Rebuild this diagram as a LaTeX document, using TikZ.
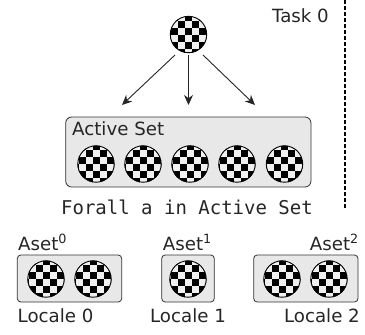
\documentclass[tikz,border=0pt]{standalone}
\usetikzlibrary{arrows.meta}
\usepackage{fontspec}
\setmainfont{DejaVu Sans}
\setmonofont{DejaVu Sans Mono}
\begin{document}
\begin{tikzpicture}[x=1pt,y=-1pt,
  lbl/.style={inner sep=0pt,font=\fontsize{18.2pt}{20pt}\selectfont,text=black!85},
  setbox/.style={draw=black!80,fill=black!9,line width=0.8pt,rounded corners=3.5pt},
  arr/.style={draw=black!85,line width=0.9pt,-{Stealth[length=10pt,width=9pt]}}]
\newcommand{\chk}[3]{%
  \node[circle,minimum size=37pt,inner sep=0pt,outer sep=0pt] (#3) at (#1,#2) {};
  \begin{scope}
    \clip (#1,#2) circle (18.5pt);
    \fill[black!6] (#1,#2) circle (18.5pt);
    \foreach \i in {-3,...,3}{\foreach \j in {-3,...,2}{
      \pgfmathtruncatemacro{\chkpar}{mod(\i+\j+12,2)}
      \ifnum\chkpar=1
        \fill[black] ({#1+(\i-0.5)*7},{#2+\j*7}) rectangle ++(7,7);
      \fi
    }}
  \end{scope}
  \draw[black,line width=0.9pt] (#1,#2) circle (18.2pt);
}
\useasboundingbox (0,0) rectangle (365,335);
\fill[white] (0,0) rectangle (365,335);
\node[lbl,anchor=base east] (task) at (329,22) {Task 0};
\coordinate (ltop) at (345,0);
\coordinate (lbot) at (345,208);
\draw[black,line width=1.6pt,dash pattern=on 4.4pt off 1.6pt] (ltop) -- (lbot);
\chk{188.5}{34.5}{top}
\coordinate (a1) at (122,105);
\coordinate (a2) at (188.5,105);
\coordinate (a3) at (255,105);
\coordinate (s1) at (175,55);
\coordinate (s2) at (188.5,55);
\coordinate (s3) at (203,55);
\draw[arr] (s1) -- (a1);
\draw[arr] (s2) -- (a2);
\draw[arr] (s3) -- (a3);
\draw[setbox,rounded corners=6pt] (65.7,117) rectangle (311,187);
\node[lbl,anchor=base west] (active) at (72,135) {Active Set};
\chk{96}{164}{c1}
\chk{143}{164}{c2}
\chk{190}{164}{c3}
\chk{237}{164}{c4}
\chk{284.5}{164}{c5}
\node[lbl,anchor=base,font=\fontsize{19pt}{20pt}\ttfamily] (forall) at (187,214) {Forall a in Active Set};
\draw[setbox] (17.3,255) rectangle (121.7,302);
\chk{46}{279}{d1}
\chk{93}{279}{d2}
\draw[setbox] (161.7,255) rectangle (214.3,302);
\chk{188}{279}{d3}
\draw[setbox] (253.7,255) rectangle (358,302);
\chk{282}{279}{d4}
\chk{329}{279}{d5}
\node[lbl,anchor=base west] (as0) at (18,250) {Aset$^{\mathrm{0}}$};
\node[lbl,anchor=base east] (as1) at (212,250) {Aset$^{\mathrm{1}}$};
\node[lbl,anchor=base east] (as2) at (359,250) {Aset$^{\mathrm{2}}$};
\node[lbl,anchor=base west] (l0) at (17.5,322) {Locale 0};
\node[lbl,anchor=base] (l1) at (188,322) {Locale 1};
\node[lbl,anchor=base east] (l2) at (360,322) {Locale 2};
\end{tikzpicture}
\end{document}
